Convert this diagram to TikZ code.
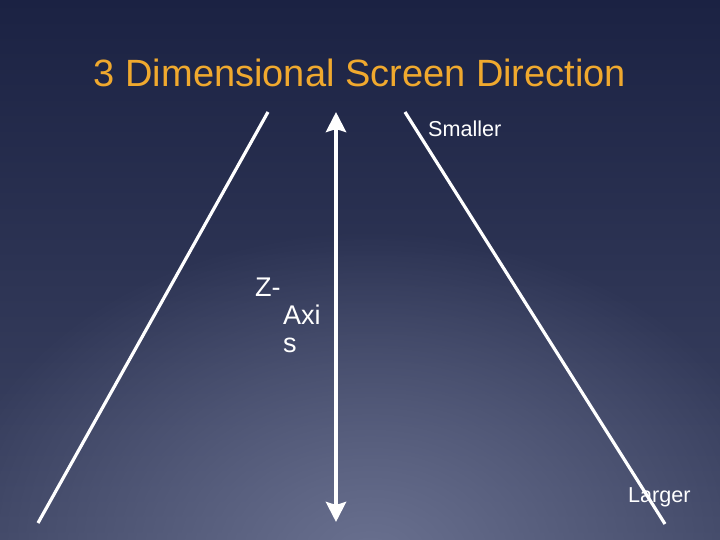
\documentclass[tikz,border=0pt]{standalone}
\usepackage{fontspec}
\setmainfont{Liberation Sans}
\usetikzlibrary{arrows.meta,fadings}
\definecolor{bgtop}{HTML}{1B2243}
\definecolor{bgbot}{HTML}{3E4564}
\definecolor{bglow}{HTML}{6A7190}
\definecolor{titleorange}{HTML}{F0A92E}
\tikzfading[name=glowfade, inner color=transparent!0, outer color=transparent!100]
\begin{document}
\begin{tikzpicture}[x=1pt,y=-1pt,
  edge/.style={white,line width=3.2pt},
  zarrow/.style={white,line width=4.5pt,{Stealth[length=20pt,width=20pt,inset=3pt]}-{Stealth[length=20pt,width=20pt,inset=3pt]}},
  label/.style={white,inner sep=0pt,anchor=base west}]
  \useasboundingbox (0,0) rectangle (720,540);
  \begin{scope}
    \clip (0,0) rectangle (720,540);
    \shade[top color=bgtop, bottom color=bgbot] (0,0) rectangle (720,540);
    \fill[bglow, path fading=glowfade] (370,560) ellipse (430 and 330);
  \end{scope}
  \node[titleorange,font=\fontsize{38}{44}\selectfont] (title) at (360,73) {3 Dimensional Screen Direction};
  \coordinate (ltop) at (268,112);
  \coordinate (lbot) at (38,523);
  \coordinate (rtop) at (405,112);
  \coordinate (rbot) at (665,524);
  \coordinate (ztop) at (336,112);
  \coordinate (zbot) at (336,522);
  \draw[edge] (ltop) -- (lbot);
  \draw[edge] (rtop) -- (rbot);
  \draw[zarrow] (ztop) -- (zbot);
  \node[label,font=\fontsize{21.6}{24}\selectfont] (smaller) at (428,137) {Smaller};
  \node[label,font=\fontsize{21.6}{24}\selectfont] (larger) at (628,502) {Larger};
  \node[label,font=\fontsize{27}{28}\selectfont,align=left] (zaxis) at (255,352) {Z-\\\hspace*{28pt}Axi\\\hspace*{28pt}s};
\end{tikzpicture}
\end{document}
